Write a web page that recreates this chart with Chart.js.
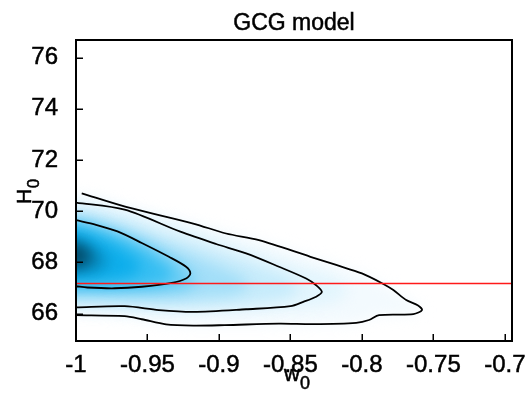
<!DOCTYPE html>
<html><head><meta charset="utf-8">
<script src="https://cdn.jsdelivr.net/npm/chart.js@4.4.1/dist/chart.umd.min.js"></script>
<style>html,body{margin:0;padding:0;background:#fff}canvas{display:block}</style>
</head><body>
<canvas id="c" width="528" height="394"></canvas>
<script>
// ---- axes ----
const xRange = [-1, -0.695];
const yRange = [64.93, 76.69];
const xTicks = [-1, -0.95, -0.9, -0.85, -0.8, -0.75, -0.7];
const xTickLabels = ['-1', '-0.95', '-0.9', '-0.85', '-0.8', '-0.75', '-0.7'];
const yTicks = [66, 68, 70, 72, 74, 76];
const yTickLabels = ['66', '68', '70', '72', '74', '76'];
const titleText = 'GCG model';

// ---- reference line ----
const refH0 = 67.18;

// ---- contour lines (w0, H0) ----
const outerW = [-0.996,-0.965,-0.918,-0.895,-0.872,-0.836,-0.818,-0.800,-0.785,-0.778,-0.769,-0.761,-0.758,-0.764,-0.788,-0.795,-0.804,-0.834,-0.858,-0.896,-0.918,-0.937,-0.954,-0.966,-1.0];
const outerH = [70.70,70.17,69.52,69.13,68.87,68.22,67.90,67.57,67.16,66.92,66.53,66.33,66.14,65.98,65.94,65.75,65.64,65.59,65.61,65.55,65.53,65.58,65.78,65.90,65.94];
const midW = [-1.0,-0.966,-0.927,-0.902,-0.881,-0.858,-0.839,-0.832,-0.828,-0.832,-0.841,-0.850,-0.881,-0.918,-0.942,-0.966,-1.0];
const midH = [70.34,70.06,69.20,68.72,68.35,67.83,67.37,67.11,66.85,66.66,66.46,66.29,66.17,66.07,66.14,66.29,66.24];
const innerW = [-1.0,-0.986,-0.971,-0.954,-0.935,-0.923,-0.920,-0.923,-0.933,-0.954,-0.973,-0.992,-1.0];
const innerH = [69.65,69.47,69.21,68.76,68.22,67.83,67.57,67.37,67.20,67.05,66.99,67.02,67.07];

// ---- density shading levels (outermost -> peak) ----
const densA_W = [-1.03,-0.996,-0.965,-0.918,-0.872,-0.836,-0.800,-0.778,-0.764,-0.758,-0.766,-0.790,-0.805,-0.836,-0.896,-0.937,-0.966,-1.0,-1.03];
const densA_H = [70.70,70.68,70.16,69.51,68.86,68.21,67.56,66.90,66.45,66.12,65.96,65.90,65.62,65.56,65.53,65.57,65.88,65.93,65.93];
const densB_W = [-1.03,-1.0,-0.96,-0.92,-0.88,-0.85,-0.82,-0.81,-0.82,-0.85,-0.90,-0.95,-1.0,-1.03];
const densB_H = [70.40,70.35,69.95,69.30,68.50,67.95,67.40,66.90,66.45,66.20,66.10,66.05,66.15,66.15];
const densC_W = [-1.03,-1.0,-0.97,-0.94,-0.90,-0.87,-0.85,-0.845,-0.86,-0.90,-0.95,-1.0,-1.03];
const densC_H = [70.10,70.05,69.70,69.10,68.40,67.80,67.30,66.90,66.55,66.35,66.30,66.40,66.40];
const densD_W = [-1.03,-1.0,-0.975,-0.95,-0.92,-0.895,-0.88,-0.885,-0.91,-0.95,-1.0,-1.03];
const densD_H = [69.85,69.80,69.45,68.95,68.30,67.70,67.20,66.85,66.65,66.60,66.65,66.65];
const densE_W = [-1.03,-1.0,-0.978,-0.955,-0.935,-0.92,-0.918,-0.93,-0.96,-1.0,-1.03];
const densE_H = [69.65,69.60,69.30,68.80,68.20,67.60,67.15,66.90,66.85,66.85,66.85];
const densF_W = [-1.03,-1.0,-0.98,-0.958,-0.94,-0.932,-0.94,-0.965,-1.0,-1.03];
const densF_H = [69.45,69.40,69.10,68.60,68.00,67.50,67.20,67.05,67.05,67.05];
const densG_W = [-1.03,-1.0,-0.983,-0.965,-0.955,-0.96,-0.98,-1.0,-1.03];
const densG_H = [69.25,69.20,68.90,68.40,67.85,67.50,67.30,67.30,67.30];
const densH_W = [-1.03,-1.0,-0.99,-0.98,-0.978,-0.985,-1.0,-1.03];
const densH_H = [69.00,68.95,68.70,68.30,67.90,67.65,67.55,67.55];
const densI_W = [-1.03,-1.0,-0.993,-0.987,-0.99,-1.0,-1.03];
const densI_H = [68.80,68.75,68.55,68.20,67.95,67.80,67.80];
const densJ_W = [-1.03,-1.0,-0.994,-0.993,-1.0,-1.03];
const densJ_H = [68.55,68.55,68.40,68.15,68.00,68.00];

function pts(W, H) { return W.map((w, i) => ({x: w, y: H[i]})); }

const densityLevels = [
  [densA_W, densA_H, '#f3fafe'],
  [densB_W, densB_H, '#e2f5fd'],
  [densC_W, densC_H, '#c6ebfb'],
  [densD_W, densD_H, '#a2def8'],
  [densE_W, densE_H, '#6ccef5'],
  [densF_W, densF_H, '#36bef2'],
  [densG_W, densG_H, '#0eaeeb'],
  [densH_W, densH_H, '#0890c6'],
  [densI_W, densI_H, '#05668e'],
  [densJ_W, densJ_H, '#02435f']
];

const datasets = [];
densityLevels.forEach((lv, k) => {
  datasets.push({
    data: pts(lv[0], lv[1]), fill: 'shape', backgroundColor: lv[2],
    borderWidth: 0, borderColor: 'rgba(0,0,0,0)', pointRadius: 0, tension: 0.4,
    order: 40 - k, isDensity: true, lastDensity: k === densityLevels.length - 1
  });
});
[[outerW, outerH], [midW, midH], [innerW, innerH]].forEach(c => {
  datasets.push({data: pts(c[0], c[1]), fill: false, borderColor: '#000', borderWidth: 1.8,
    pointRadius: 0, tension: 0.3, order: 2});
});
datasets.push({data: [{x: xRange[0], y: refH0}, {x: xRange[1], y: refH0}], fill: false,
  borderColor: '#ff1a1a', borderWidth: 1.5, pointRadius: 0, tension: 0, order: 1});

const FONT = '"Liberation Sans", Arial, sans-serif';

const blurPlugin = {
  id: 'densityBlur',
  beforeDatasetsDraw(chart) { chart.ctx.filter = 'blur(7px)'; },
  afterDatasetDraw(chart, args) {
    if (chart.data.datasets[args.index].lastDensity) chart.ctx.filter = 'none';
  },
  afterDatasetsDraw(chart) { chart.ctx.filter = 'none'; }
};

function boldText(ctx, t, x, y) {
  ctx.fillText(t, x, y);
  ctx.strokeText(t, x, y);
}

const framePlugin = {
  id: 'frame',
  afterDraw(chart) {
    const ctx = chart.ctx, a = chart.chartArea, sx = chart.scales.x, sy = chart.scales.y;
    ctx.save();
    ctx.filter = 'none';
    ctx.strokeStyle = '#000';
    ctx.lineWidth = 1.5;
    xTicks.forEach(v => {
      const p = Math.round(sx.getPixelForValue(v)) + 0.25;
      ctx.beginPath(); ctx.moveTo(p, a.bottom); ctx.lineTo(p, a.bottom - 7); ctx.stroke();
    });
    yTicks.forEach(v => {
      const p = Math.round(sy.getPixelForValue(v)) + 0.25;
      ctx.beginPath(); ctx.moveTo(a.left, p); ctx.lineTo(a.left + 7, p); ctx.stroke();
    });
    ctx.lineWidth = 2;
    ctx.strokeRect(a.left, a.top, a.right - a.left, a.bottom - a.top);
    // texts
    ctx.fillStyle = '#000';
    ctx.lineWidth = 0.5;
    ctx.textAlign = 'center';
    ctx.textBaseline = 'alphabetic';
    ctx.font = '23px ' + FONT;
    boldText(ctx, titleText, (a.left + a.right) / 2, 29.5);
    // x axis title w0
    ctx.textAlign = 'left';
    ctx.font = '22px ' + FONT;
    const wx = 284;
    boldText(ctx, 'w', wx, 381);
    const ww = ctx.measureText('w').width;
    ctx.font = '18px ' + FONT;
    boldText(ctx, '0', wx + ww, 389);
    // y axis title H0
    ctx.save();
    ctx.translate(31, 204);
    ctx.rotate(-Math.PI / 2);
    ctx.font = '21px ' + FONT;
    boldText(ctx, 'H', 0, 0);
    const hw = ctx.measureText('H').width;
    ctx.font = '17px ' + FONT;
    boldText(ctx, '0', hw + 0.5, 8);
    ctx.restore();
    ctx.restore();
  }
};

new Chart(document.getElementById('c'), {
  type: 'line',
  data: {datasets},
  options: {
    responsive: false,
    animation: false,
    events: [],
    layout: {padding: {left: 0, right: 16, top: 40, bottom: 0}},
    plugins: {legend: {display: false}, tooltip: {enabled: false}, title: {display: false}},
    scales: {
      x: {
        type: 'linear', min: xRange[0], max: xRange[1],
        grid: {display: false}, border: {display: false},
        afterBuildTicks: s => { s.ticks = xTicks.map(v => ({value: v})); },
        afterFit: s => { s.height = 53; s.paddingLeft = 0; s.paddingRight = 0; },
        ticks: {
          autoSkip: false, maxRotation: 0, minRotation: 0, padding: 2, color: '#000',
          textStrokeColor: '#000', textStrokeWidth: 0.5,
          font: {family: FONT, size: 24},
          callback: (v, i) => xTickLabels[i]
        }
      },
      y: {
        type: 'linear', min: yRange[0], max: yRange[1],
        grid: {display: false}, border: {display: false},
        afterBuildTicks: s => { s.ticks = yTicks.map(v => ({value: v})); },
        afterFit: s => { s.width = 76; },
        ticks: {
          autoSkip: false, padding: 10, color: '#000',
          textStrokeColor: '#000', textStrokeWidth: 0.5,
          font: {family: FONT, size: 24},
          callback: (v, i) => yTickLabels[i]
        }
      }
    }
  },
  plugins: [blurPlugin, framePlugin]
});
</script>
</body></html>
